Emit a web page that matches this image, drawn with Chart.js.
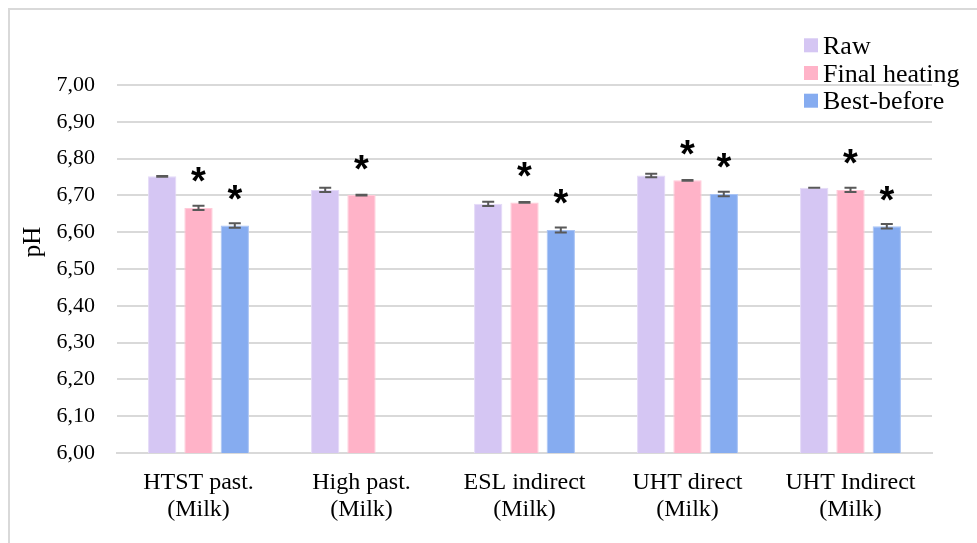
<!DOCTYPE html>
<html>
<head>
<meta charset="utf-8">
<script src="https://cdn.jsdelivr.net/npm/chart.js@4/dist/chart.umd.min.js"></script>
<style>
  html, body { margin: 0; padding: 0; background: #ffffff; }
  #wrap { width: 977px; height: 543px; position: relative; }
</style>
</head>
<body>
<div id="wrap"><canvas id="c" width="977" height="543"></canvas></div>
<script>
// Milk pH across processing types
const categories = [
  ['HTST past.', '(Milk)'],
  ['High past.', '(Milk)'],
  ['ESL indirect', '(Milk)'],
  ['UHT direct', '(Milk)'],
  ['UHT Indirect', '(Milk)']
];
const seriesNames = ['Raw', 'Final heating', 'Best-before'];

const rawValues   = [6.752, 6.715, 6.677, 6.754, 6.721];
const rawErrors   = [0.001, 0.006, 0.006, 0.005, 0.000];

const finalValues = [6.666, 6.701, 6.681, 6.741, 6.715];
const finalErrors = [0.006, 0.001, 0.001, 0.001, 0.006];

const bestValues  = [6.618, null, 6.606, 6.704, 6.616];
const bestErrors  = [0.006, null, 0.007, 0.006, 0.006];

// significance marks (*) per series
const rawSig   = [false, false, false, false, false];
const finalSig = [true, true, true, true, true];
const bestSig  = [true, false, true, true, true];

const yTicksMin = 6.0, yTicksMax = 7.0, yTickStep = 0.1;

const fillColors   = ['#d5c6f3', '#ffb3c8', '#86acf0'];
const edgeColors   = ['#e4daf8', '#ffcad8', '#a9c4f5'];

const SERIF = '"Liberation Serif", "Times New Roman", serif';

const errorSets = [rawErrors, finalErrors, bestErrors];
const sigSets = [rawSig, finalSig, bestSig];

const decorPlugin = {
  id: 'decor',
  beforeDraw(chart) {
    const ctx = chart.ctx;
    ctx.save();
    ctx.fillStyle = '#ffffff';
    ctx.fillRect(0, 0, chart.width, chart.height);
    ctx.strokeStyle = '#d9d9d9';
    ctx.lineWidth = 2;
    ctx.strokeRect(9, 9, 2000, 2000);
    ctx.restore();
  },
  afterDatasetsDraw(chart) {
    const ctx = chart.ctx;
    const y = chart.scales.y;
    ctx.save();
    // error bars
    chart.data.datasets.forEach((ds, di) => {
      const meta = chart.getDatasetMeta(di);
      meta.data.forEach((bar, i) => {
        const v = ds.data[i];
        const e = errorSets[di][i];
        if (v == null || e == null) return;
        const cx = bar.x;
        const yTop = y.getPixelForValue(v + e);
        const yBot = y.getPixelForValue(v - e);
        ctx.strokeStyle = '#595959';
        ctx.lineWidth = 2;
        ctx.beginPath();
        ctx.moveTo(cx, yTop); ctx.lineTo(cx, yBot);
        ctx.moveTo(cx - 6, yTop); ctx.lineTo(cx + 6, yTop);
        ctx.moveTo(cx - 6, yBot); ctx.lineTo(cx + 6, yBot);
        ctx.stroke();
      });
    });
    // significance asterisks
    ctx.fillStyle = '#000000';
    ctx.font = 'bold 38px "Liberation Sans", Arial, sans-serif';
    ctx.textAlign = 'center';
    ctx.textBaseline = 'alphabetic';
    const m = ctx.measureText('*');
    const shift = (m.actualBoundingBoxAscent - m.actualBoundingBoxDescent) / 2;
    chart.data.datasets.forEach((ds, di) => {
      const meta = chart.getDatasetMeta(di);
      meta.data.forEach((bar, i) => {
        if (!sigSets[di][i] || ds.data[i] == null) return;
        const centerY = y.getPixelForValue(ds.data[i]) - 33;
        ctx.fillText('*', bar.x, centerY + shift);
      });
    });
    ctx.restore();
  },
  afterDraw(chart) {
    const ctx = chart.ctx;
    ctx.save();
    // y-axis title
    ctx.fillStyle = '#000000';
    ctx.font = '25px ' + SERIF;
    ctx.translate(33, 242);
    ctx.rotate(-Math.PI / 2);
    ctx.textAlign = 'center';
    ctx.textBaseline = 'middle';
    ctx.fillText('pH', 0, 0);
    ctx.restore();

    // legend
    ctx.save();
    ctx.font = '26px ' + SERIF;
    ctx.textAlign = 'left';
    ctx.textBaseline = 'alphabetic';
    seriesNames.forEach((name, k) => {
      const cy = 45.3 + k * 27.7;
      ctx.fillStyle = fillColors[k];
      ctx.fillRect(804, cy - 7, 14, 14);
      ctx.fillStyle = '#000000';
      ctx.fillText(name, 823, cy + 8.5);
    });
    ctx.restore();
  }
};

const seriesValues = [rawValues, finalValues, bestValues];

new Chart(document.getElementById('c'), {
  type: 'bar',
  data: {
    labels: categories,
    datasets: seriesNames.map((name, k) => ({
      label: name,
      data: seriesValues[k],
      backgroundColor: fillColors[k],
      borderColor: edgeColors[k],
      borderWidth: 1,
      categoryPercentage: 0.668,
      barPercentage: 0.78
    }))
  },
  options: {
    responsive: false,
    animation: false,
    events: [],
    layout: { padding: { top: 85, right: 45, left: 0, bottom: 0 } },
    plugins: { legend: { display: false }, tooltip: { enabled: false } },
    scales: {
      x: {
        grid: { display: false, drawTicks: false },
        border: { color: '#d9d9d9', width: 2 },
        ticks: {
          color: '#000000',
          font: { family: SERIF, size: 24, lineHeight: 1.125 },
          padding: 16,
          maxRotation: 0,
          autoSkip: false
        },
        afterFit(s) { s.height = 90; }
      },
      y: {
        min: yTicksMin,
        max: yTicksMax,
        grid: { color: '#d9d9d9', lineWidth: 2, drawTicks: false },
        border: { display: false },
        ticks: {
          stepSize: yTickStep,
          color: '#000000',
          font: { family: SERIF, size: 22 },
          padding: 22,
          callback: v => Number(v).toFixed(2).replace('.', ',')
        },
        afterFit(s) { s.width = 117; }
      }
    }
  },
  plugins: [decorPlugin]
});
</script>
</body>
</html>
